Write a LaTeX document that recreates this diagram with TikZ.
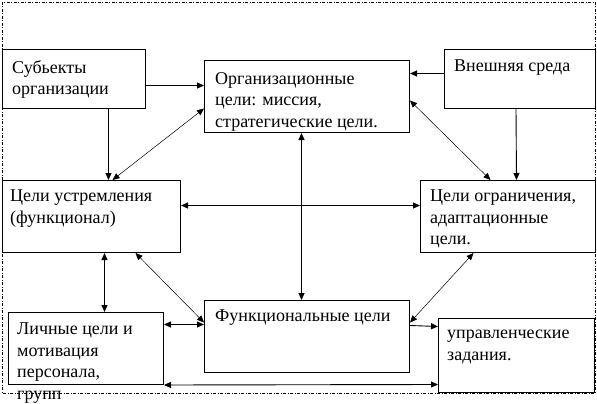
\documentclass[tikz,border=0pt]{standalone}
\usepackage{fontspec}
\setmainfont{Liberation Serif}
\usetikzlibrary{arrows.meta}

\tikzset{
  box/.style={draw, black, line width=1, inner sep=0, anchor=north west},
  txt/.style={anchor=north west, inner sep=0, align=left,
              font=\fontsize{18}{21.5}\selectfont},
  link/.style={black, line width=0.9, >={Triangle[length=7, width=6]}},
  thinlink/.style={black, line width=0.5, >={Triangle[length=7, width=6]}},
  frame/.style={black, line width=0.6, dash pattern=on 3 off 1.5 on 1 off 1.5}
}

\begin{document}
\begin{tikzpicture}[x=1pt, y=-1pt]

  \useasboundingbox (0, 0) rectangle (597, 404);

  \draw[frame] (2, 2) rectangle (595, 393);

  % boxes
  \node[box, minimum width=143, minimum height=59] (subj) at (2, 49) {};
  \node[box, minimum width=205, minimum height=72] (org)  at (204, 60) {};
  \node[box, minimum width=151, minimum height=59] (env)  at (444, 49) {};
  \node[box, minimum width=178, minimum height=72] (asp)  at (2, 180) {};
  \node[box, minimum width=175, minimum height=72] (lim)  at (420, 180) {};
  \node[box, minimum width=155, minimum height=72] (pers) at (8, 312) {};
  \node[box, minimum width=205, minimum height=72] (func) at (204, 300) {};
  \node[box, minimum width=156, minimum height=74] (task) at (438, 318) {};

  % texts
  \node[txt] (subj-t) at ([shift={(10, 11)}]subj.north west) {Субьекты\\организации};
  \node[txt] (org-t)  at ([shift={(11, 12)}]org.north west)
    {Организационные\\цели: миссия,\\стратегические цели.};
  \node[txt] (env-t)  at ([shift={(10, 11)}]env.north west) {Внешняя среда};
  \node[txt] (asp-t)  at ([shift={(8, 10)}]asp.north west) {Цели устремления\\(функционал)};
  \node[txt] (lim-t)  at ([shift={(10, 10)}]lim.north west)
    {Цели ограничения,\\адаптационные\\цели.};
  \node[txt] (pers-t) at ([shift={(9, 11)}]pers.north west)
    {Личные цели и\\мотивация\\персонала,\\групп};
  \node[txt] (func-t) at ([shift={(11, 10)}]func.north west) {Функциональные цели};
  \node[txt] (task-t) at ([shift={(9, 12)}]task.north west) {управленческие\\задания.};

  % connectors
  \draw[link, ->] ([yshift=-6.5]subj.east) -- ([yshift=11]org.west);
  \draw[link, ->] ([xshift=34.5]subj.south) -- ([xshift=17]asp.north);
  \draw[thinlink, <->] ([yshift=-12]org.west) -- ([xshift=21]asp.north);
  \draw[link, ->] ([yshift=5.5]env.west) -- ([yshift=23]org.east);
  \draw[link, ->] ([xshift=-4]env.south) -- ([xshift=8.5]lim.north);
  \draw[thinlink, <->] ([yshift=-4]org.east) -- ([xshift=-17.5]lim.north);
  \draw[link, <->] ([xshift=-5.5]org.south) -- ([xshift=-5.5]func.north);
  \draw[link, <->] ([yshift=11]asp.east) -- ([yshift=11]lim.west);
  \draw[link, <->] ([xshift=13]asp.south) -- ([xshift=18.5]pers.north);
  \draw[thinlink, <->] ([xshift=44]asp.south) -- ([yshift=14]func.west);
  \draw[link, <->] ([yshift=24]pers.east) -- ([yshift=12]func.west);
  \draw[thinlink, <->] ([yshift=14]func.east) -- ([xshift=-34.5]lim.south);
  \draw[link, ->] ([yshift=11]func.east) -- ([yshift=29]task.west);
  \draw[link, <->] (pers.south east) -- ([yshift=-29]task.west);

\end{tikzpicture}
\end{document}
